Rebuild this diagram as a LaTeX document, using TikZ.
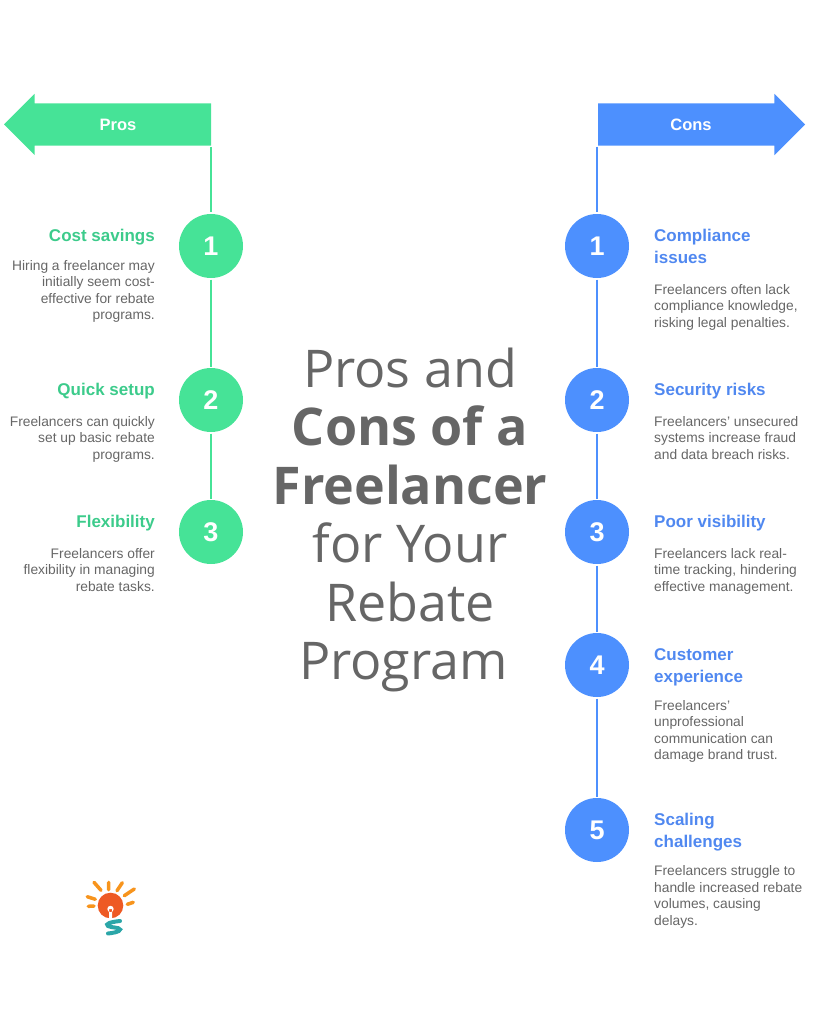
\documentclass[tikz,border=0pt]{standalone}
\usepackage{fontspec}
\setmainfont{Liberation Sans}
\newfontfamily\titlefont{Open Sans}
\usetikzlibrary{shapes.arrows}
\definecolor{prosfill}{HTML}{46E397}
\definecolor{proshead}{HTML}{3CCB8B}
\definecolor{consfill}{HTML}{4D90FE}
\definecolor{conshead}{HTML}{5088F0}
\definecolor{bodygray}{HTML}{666666}
\definecolor{bulb}{HTML}{EE5A24}
\definecolor{rays}{HTML}{F7941D}
\definecolor{coil}{HTML}{2BA6A8}
\tikzset{
banner/.style={single arrow, single arrow tip angle=90, single arrow head extend=9.5pt,
  text height=42pt, minimum width=61pt, minimum height=207pt, inner sep=0pt, outer sep=0pt, fill=#1},
bannertext/.style={text=white, font=\bfseries\fontsize{16.5}{18}\selectfont},
num/.style={draw=none, shape=circle, fill=#1, minimum size=64pt, inner sep=0pt, outer sep=1.5pt,
  text=white, font=\bfseries\fontsize{27}{30}\selectfont},
leftlabel/.style={anchor=north east, align=right, inner sep=0pt},
rightlabel/.style={anchor=north west, align=left, inner sep=0pt},
head/.style={text=#1, font=\bfseries\fontsize{17}{22}\selectfont},
desc/.style={text=bodygray, font=\fontsize{13.8}{16.5}\selectfont},
ray/.style={draw=rays, line width=3.5pt, line cap=round}
}
\begin{document}
\begin{tikzpicture}[x=1pt, y=-1pt]
\useasboundingbox (0,0) rectangle (819,1024);
% arrows on top
\node[banner=prosfill, shape border rotate=180, anchor=tip] (prosarrow) at (4,124.5) {};
\node[banner=consfill, anchor=tip] (consarrow) at (805,124.5) {};
\node[bannertext] (prostext) at (118,125) {Pros};
\node[bannertext] (constext) at (691,124.5) {Cons};
\coordinate (prostop) at (211,147);
\coordinate (constop) at (597,147);
% numbered circles
\foreach \i/\y in {1/246,2/400,3/532}
{
\node[num=prosfill] (p\i) at (211,\y) {\i};
}
\foreach \i/\y in {1/246,2/400,3/532,4/665,5/830}
{
\node[num=consfill] (c\i) at (597,\y) {\i};
}
\draw[prosfill, line width=1.6pt]
(prostop) -- (p1) (p1) -- (p2) (p2) -- (p3)
;
\draw[consfill, line width=1.6pt]
(constop) -- (c1) (c1) -- (c2) (c2) -- (c3) (c3) -- (c4) (c4) -- (c5)
;
% left side
\node[leftlabel, head=proshead] (ph1) at (155,229) {Cost savings};
\node[leftlabel, desc] (pd1) at (155,260) {Hiring a freelancer may\\initially seem cost-\\effective for rebate\\programs.};
\node[leftlabel, head=proshead] (ph2) at (155,383) {Quick setup};
\node[leftlabel, desc] (pd2) at (155,416) {Freelancers can quickly\\set up basic rebate\\programs.};
\node[leftlabel, head=proshead] (ph3) at (155,515) {Flexibility};
\node[leftlabel, desc] (pd3) at (155,548) {Freelancers offer\\flexibility in managing\\rebate tasks.};
% right side
\node[rightlabel, head=conshead] (ch1) at (654,229) {Compliance\\issues};
\node[rightlabel, desc] (cd1) at (654,284) {Freelancers often lack\\compliance knowledge,\\risking legal penalties.};
\node[rightlabel, head=conshead] (ch2) at (654,383) {Security risks};
\node[rightlabel, desc] (cd2) at (654,416) {Freelancers' unsecured\\systems increase fraud\\and data breach risks.};
\node[rightlabel, head=conshead] (ch3) at (654,515) {Poor visibility};
\node[rightlabel, desc] (cd3) at (654,548) {Freelancers lack real-\\time tracking, hindering\\effective management.};
\node[rightlabel, head=conshead] (ch4) at (654,648) {Customer\\experience};
\node[rightlabel, desc] (cd4) at (654,700) {Freelancers'\\unprofessional\\communication can\\damage brand trust.};
\node[rightlabel, head=conshead] (ch5) at (654,813) {Scaling\\challenges};
\node[rightlabel, desc] (cd5) at (654,865.5) {Freelancers struggle to\\handle increased rebate\\volumes, causing\\delays.};
% title
\node[align=center, inner sep=0pt, text=bodygray, font=\titlefont\fontsize{52}{58.4}\selectfont] (title) at (410,520)
{Pros and\\{\bfseries Cons of a}\\{\bfseries Freelancer}\\for Your\\Rebate\\Program\hspace*{13pt}};
% logo
\draw[ray] (94,882.3) -- (101,890.3) (108.7,882.3) -- (108.7,889.7) (122.3,882.7) -- (117,890.7)
(134.3,889) -- (124.3,895.7) (133.3,902.3) -- (127.3,904.3) (87.3,896.7) -- (95.3,899.3) (88.3,906.3) -- (94,906);
\fill[bulb] (110.5,905.5) circle (12.8);
\fill[white] (110.5,909) circle (3.2) (109,909) rectangle (112,919);
\draw[coil, line width=4pt, line cap=round] (120,921) .. controls (110,922) and (105,924) .. (108,926) .. controls (112,928) and (119,927) .. (120,929.5) .. controls (120,932) and (112,933) .. (108,933.5);
\end{tikzpicture}
\end{document}
